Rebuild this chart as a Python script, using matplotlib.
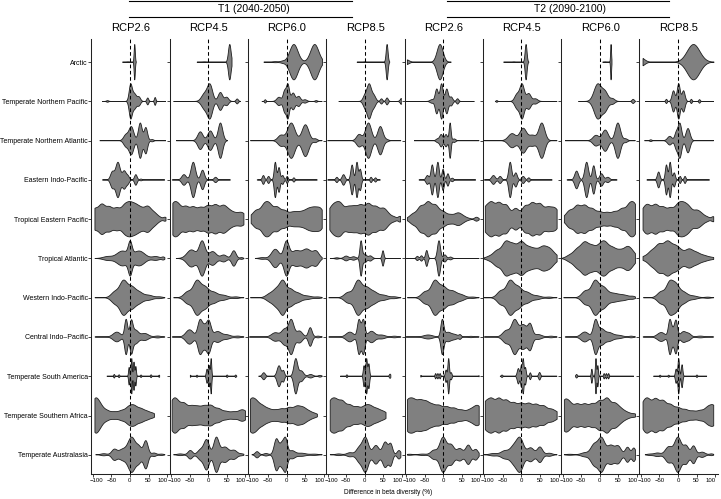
import numpy as np
import matplotlib
matplotlib.use("Agg")
import matplotlib.pyplot as plt
from matplotlib.lines import Line2D
from matplotlib.transforms import ScaledTranslation

plt.rcParams['font.family'] = ['Liberation Sans', 'DejaVu Sans']

REGIONS = ["Arctic", "Temperate Northern Pacific", "Temperate Northern Atlantic",
           "Eastern Indo-Pacific", "Tropical Eastern Pacific", "Tropical Atlantic",
           "Western Indo-Pacific", "Central Indo\u2013Pacific", "Temperate South America",
           "Temperate Southern Africa", "Temperate Australasia"]
PERIODS = ["T1 (2040-2050)", "T2 (2090-2100)"]
SCENARIOS = ["RCP2.6", "RCP4.5", "RCP6.0", "RCP8.5"]
X_TICKS = [-100, -50, 0, 50, 100]

# one violin per region: (min, max, [(mode, spread, relative height), ...])
T1_RCP26 = [
    (-20, 17, [(13, 1.5, 1.0), (-5, 6, 0.02)]),
    (-74, 97, [(-60, 3, 0.05), (2, 4, 1.0), (12, 6, 0.5), (25, 4, 0.25), (48, 2.5, 0.22), (68, 2, 0.25)]),
    (-81, 97, [(-11, 6, 0.3), (4, 6.5, 0.75), (28, 5, 0.95), (43, 4.5, 0.7), (60, 4, 0.06)]),
    (-74, 94, [(-47, 5, 0.45), (-32, 6, 1.0), (-15, 5, 0.5), (-5, 4, 0.2), (16, 3.5, 0.3), (30, 3, 0.05)]),
    (-94, 97, [(-95, 9, 0.7), (-75, 9, 1.0), (-55, 9, 0.8), (-35, 9, 0.72), (-15, 9, 0.82), (0, 9, 0.9),
               (15, 9, 0.78), (30, 9, 0.62), (48, 9, 0.82), (65, 9, 0.4), (80, 9, 0.1), (95, 4, 0.12)]),
    (-94, 94, [(1, 5, 0.7), (-20, 15, 0.4), (25, 15, 0.4), (-60, 12, 0.1), (70, 10, 0.1), (90, 4, 0.07)]),
    (-94, 94, [(-40, 10, 0.35), (-17, 10, 1.0), (5, 10, 0.6), (25, 10, 0.3), (50, 12, 0.15), (80, 8, 0.05)]),
    (-94, 94, [(-35, 10, 0.25), (-10, 4, 0.9), (4, 4, 0.75), (15, 8, 0.35), (40, 10, 0.18), (75, 8, 0.05)]),
    (-62, 80, [(-42, 1.5, 0.1), (-29, 1.5, 0.08), (-2, 1.5, 0.5), (5, 1.5, 1.0), (11, 1.5, 0.8),
               (16, 1.5, 0.55), (30, 1.5, 0.07), (57, 1.5, 0.08), (79, 1.5, 0.06)]),
    (-94, 66, [(-94, 9, 1.0), (-80, 9, 0.6), (-62, 9, 0.3), (-42, 9, 0.22), (-22, 9, 0.3), (-3, 9, 0.5),
               (12, 9, 0.55), (30, 9, 0.4), (48, 9, 0.25), (63, 6, 0.1)]),
    (-92, 94, [(-70, 8, 0.06), (-42, 7, 0.3), (-20, 10, 0.3), (5, 10, 1.0), (25, 7, 0.4), (43, 6, 0.8),
               (65, 6, 0.1), (85, 6, 0.04)]),
]

T1_RCP45 = [
    (-30, 64, [(58, 3.5, 1.0), (-10, 8, 0.02)]),
    (-93, 87, [(-10, 8, 0.45), (5, 7, 1.0), (33, 6, 0.55), (50, 5, 0.25), (78, 3, 0.15)]),
    (-86, 52, [(-21, 7, 0.5), (6, 7, 0.55), (33, 6, 1.0)]),
    (-97, 60, [(-65, 6, 0.3), (-40, 6, 1.0), (-15, 5, 0.55), (20, 4, 0.15)]),
    (-95, 96, [(-95, 9, 0.85), (-80, 9, 0.8), (-60, 9, 0.75), (-40, 9, 0.72), (-20, 9, 0.68), (0, 9, 0.8),
               (20, 9, 0.85), (40, 9, 0.75), (55, 9, 0.45), (70, 9, 0.3), (85, 9, 0.25), (95, 9, 0.25)]),
    (-86, 96, [(-45, 12, 0.5), (-16, 8, 1.0), (12, 10, 0.4), (42, 8, 0.2), (69, 6, 0.45), (90, 4, 0.05)]),
    (-93, 96, [(-55, 10, 0.35), (-30, 10, 1.0), (-8, 10, 0.6), (15, 10, 0.3), (40, 12, 0.15), (75, 8, 0.05)]),
    (-97, 96, [(-50, 10, 0.4), (-22, 6, 0.9), (-10, 6, 0.5), (2, 6, 0.85), (25, 10, 0.3), (50, 10, 0.12),
               (80, 8, 0.05)]),
    (-48, 77, [(-48, 1.5, 0.06), (-30, 1.5, 0.06), (-3, 2, 0.4), (3, 1.5, 0.6), (8, 1.5, 1.0),
               (51, 1.5, 0.07), (74, 1.5, 0.07)]),
    (-97, 100, [(-97, 9, 0.75), (-84, 9, 0.8), (-65, 9, 0.75), (-45, 9, 0.55), (-28, 9, 0.5), (-10, 9, 0.55),
                (8, 9, 0.6), (28, 9, 0.42), (48, 9, 0.25), (68, 9, 0.22), (88, 9, 0.28), (100, 9, 0.2)]),
    (-93, 96, [(-75, 8, 0.05), (-48, 6, 0.25), (-20, 8, 0.3), (-4, 7, 0.85), (22, 7, 1.0), (45, 10, 0.45),
               (70, 8, 0.25), (90, 6, 0.05)]),
]

T1_RCP60 = [
    (-61, 97, [(-30, 8, 0.03), (-10, 6, 0.05), (20, 11, 1.0), (76, 11, 1.0)]),
    (-66, 96, [(-57, 2, 0.1), (-20, 6, 0.25), (-5, 4, 0.6), (4, 4, 1.0), (18, 5, 0.5), (33, 5, 0.3),
               (50, 5, 0.1), (80, 3, 0.05)]),
    (-97, 96, [(-15, 8, 0.3), (13, 10, 1.0), (51, 9, 0.9), (78, 5, 0.1)]),
    (-79, 83, [(-62, 3, 0.25), (-48, 3, 0.2), (-30, 3, 1.0), (-20, 3, 0.7), (-10, 3, 0.25), (2, 2.5, 0.2),
               (20, 2.5, 0.12)]),
    (-95, 96, [(-95, 9, 0.15), (-80, 9, 0.5), (-60, 9, 0.8), (-45, 9, 0.8), (-25, 9, 0.7), (-5, 9, 0.5),
               (15, 9, 0.35), (30, 9, 0.32), (45, 9, 0.35), (60, 9, 0.5), (75, 9, 0.55), (90, 9, 0.45),
               (96, 9, 0.2)]),
    (-84, 96, [(-30, 10, 0.55), (0, 7, 1.0), (25, 12, 0.45), (55, 12, 0.55), (80, 8, 0.4), (-65, 8, 0.05)]),
    (-97, 96, [(-45, 10, 0.25), (-25, 10, 0.6), (-9, 8, 1.0), (10, 9, 0.55), (30, 10, 0.3), (55, 12, 0.12),
               (85, 8, 0.05)]),
    (-100, 96, [(-30, 10, 0.25), (-5, 8, 0.45), (13, 7, 1.0), (35, 8, 0.35), (64, 5, 0.55), (85, 6, 0.05)]),
    (-75, 96, [(-61, 4, 0.2), (-20, 5, 0.6), (-8, 3, 0.3), (25, 5, 1.0), (40, 6, 0.3), (65, 6, 0.1),
               (90, 4, 0.05)]),
    (-97, 83, [(-97, 9, 0.75), (-82, 9, 0.65), (-65, 9, 0.45), (-48, 9, 0.3), (-30, 9, 0.25), (-12, 9, 0.32),
               (8, 9, 0.4), (28, 9, 0.45), (45, 9, 0.38), (62, 9, 0.2), (78, 7, 0.08)]),
    (-93, 96, [(-79, 5, 0.2), (-55, 6, 0.08), (-27, 6, 1.0), (-12, 6, 0.7), (-2, 5, 0.9), (15, 8, 0.25),
               (40, 12, 0.1), (75, 10, 0.04)]),
]

T1_RCP85 = [
    (-21, 67, [(60, 2.5, 1.0), (0, 5, 0.02)]),
    (-70, 98, [(0, 5, 0.3), (12, 6, 1.0), (25, 5, 0.3), (45, 3, 0.15), (60, 3, 0.2), (100, 4, 0.2)]),
    (-100, 97, [(-15, 7, 0.35), (10, 8, 1.0), (42, 7, 0.8), (60, 5, 0.05)]),
    (-100, 42, [(-75, 3, 0.15), (-57, 4, 0.3), (-34, 3.5, 0.85), (-21, 3, 1.0), (-12, 3, 0.6),
                (17, 2.5, 0.15), (29, 2.5, 0.12)]),
    (-94, 96, [(-94, 9, 0.4), (-80, 9, 0.6), (-65, 9, 0.7), (-45, 9, 0.55), (-28, 9, 0.55), (-10, 9, 0.65),
               (10, 9, 0.75), (30, 9, 0.6), (50, 9, 0.5), (65, 9, 0.2), (80, 6, 0.08), (95, 5, 0.15)]),
    (-93, 97, [(-75, 5, 0.04), (-50, 6, 0.14), (-30, 6, 0.1), (-10, 3, 1.0), (0, 5, 0.25), (15, 5, 0.15),
               (49, 2.5, 0.45)]),
    (-97, 97, [(-45, 10, 0.3), (-18, 10, 1.0), (5, 10, 0.55), (25, 10, 0.3), (50, 12, 0.15), (80, 8, 0.05)]),
    (-97, 97, [(-40, 10, 0.3), (-16, 4, 0.9), (-9, 5, 0.4), (-3, 4, 0.85), (18, 9, 0.35), (45, 10, 0.12),
               (80, 8, 0.05)]),
    (-66, 70, [(-48, 1.5, 0.08), (-2, 2, 0.6), (5, 2, 1.0), (11, 2, 0.7), (68, 2, 0.12)]),
    (-93, 57, [(-93, 9, 0.7), (-78, 9, 0.75), (-60, 9, 0.75), (-40, 9, 0.55), (-20, 9, 0.45), (0, 9, 0.45),
               (15, 9, 0.45), (32, 9, 0.32), (48, 9, 0.2), (57, 6, 0.05)]),
    (-93, 97, [(-70, 8, 0.05), (-40, 8, 0.12), (-15, 8, 0.4), (2, 8, 1.0), (30, 8, 0.55), (55, 7, 0.75),
               (70, 5, 0.6), (92, 5, 0.25)]),
]

T2_RCP26 = [
    (-96, 22, [(-100, 8, 0.15), (-8, 8, 1.0)]),
    (-100, 84, [(-30, 5, 0.1), (-17, 4, 0.7), (-4, 4, 1.0), (10, 4, 0.7), (22, 4, 0.25), (39, 3, 0.15)]),
    (-78, 97, [(-15, 4, 0.1), (-5, 4, 0.35), (8, 4, 0.35), (19, 2.5, 1.0), (30, 4, 0.1)]),
    (-65, 88, [(-42, 4, 0.25), (-29, 3.5, 0.85), (-14, 3.5, 1.0), (0, 3, 0.6), (13, 3, 0.35), (25, 3, 0.1)]),
    (-96, 97, [(-95, 9, 0.03), (-80, 9, 0.25), (-60, 9, 0.6), (-40, 9, 0.8), (-20, 9, 0.65), (0, 9, 0.35),
               (20, 9, 0.2), (40, 9, 0.28), (55, 9, 0.12), (70, 6, 0.02), (90, 5, 0.1)]),
    (-100, 97, [(-69, 3, 0.12), (-58, 3, 0.15), (-44, 3, 0.45), (-11, 4, 1.0), (5, 4, 0.2), (20, 4, 0.08)]),
    (-96, 97, [(-48, 10, 0.35), (-22, 10, 1.0), (0, 10, 0.6), (25, 12, 0.4), (50, 10, 0.15), (80, 8, 0.04)]),
    (-100, 97, [(-40, 12, 0.12), (-2, 4, 1.0), (12, 8, 0.25), (30, 10, 0.15), (46, 3, 0.1), (75, 8, 0.04)]),
    (-60, 97, [(-60, 1.5, 0.05), (-20, 1.5, 0.15), (-14, 1.5, 0.15), (-8, 1.5, 0.15), (8, 2, 0.35),
               (15, 2, 1.0), (22, 2, 0.2), (97, 1.5, 0.03)]),
    (-96, 97, [(-96, 9, 0.75), (-80, 9, 0.75), (-62, 9, 0.72), (-45, 9, 0.65), (-28, 9, 0.5), (-10, 9, 0.5),
               (10, 9, 0.45), (30, 9, 0.38), (50, 9, 0.28), (70, 9, 0.25), (85, 9, 0.32), (97, 9, 0.4)]),
    (-96, 97, [(-90, 8, 0.03), (-55, 10, 0.04), (-25, 8, 0.25), (0, 9, 1.0), (22, 8, 0.55), (45, 8, 0.35),
               (68, 7, 0.55), (88, 6, 0.3)]),
]

T2_RCP45 = [
    (-48, 20, [(12.6, 2.5, 1.0), (-20, 5, 0.02)]),
    (-70, 96, [(-66, 2, 0.05), (-12, 6, 0.4), (2, 6, 1.0), (20, 6, 0.45), (38, 6, 0.15)]),
    (-100, 96, [(-25, 10, 0.4), (5, 9, 0.7), (30, 9, 0.3), (55, 8, 1.0)]),
    (-100, 83, [(-75, 5, 0.25), (-57, 4, 0.2), (-30, 4, 1.0), (-15, 4, 0.4), (5, 4, 0.2), (20, 3, 0.12)]),
    (-97, 96, [(-97, 9, 0.6), (-80, 9, 0.85), (-60, 9, 0.85), (-40, 9, 0.75), (-15, 9, 0.6), (10, 9, 0.7),
               (30, 9, 0.85), (50, 9, 0.8), (70, 9, 0.55), (85, 9, 0.4), (96, 9, 0.35)]),
    (-100, 96, [(-85, 10, 0.12), (-65, 10, 0.45), (-42, 10, 0.95), (-22, 10, 0.75), (0, 10, 0.92),
                (20, 10, 0.55), (38, 10, 0.45), (58, 10, 0.62), (76, 10, 0.5), (92, 10, 0.15)]),
    (-100, 96, [(-55, 10, 0.4), (-30, 10, 1.0), (-8, 10, 0.6), (15, 10, 0.3), (40, 12, 0.12), (75, 8, 0.04)]),
    (-100, 96, [(-40, 10, 0.4), (-18, 8, 1.0), (5, 10, 0.75), (24, 6, 0.7), (45, 10, 0.15), (80, 8, 0.05)]),
    (-57, 96, [(-52, 2, 0.07), (-8, 3, 0.45), (0, 2, 0.6), (5, 2, 1.0), (11, 2, 0.5), (24, 2, 0.2),
               (49, 2.5, 0.22)]),
    (-97, 96, [(-97, 9, 0.65), (-80, 9, 0.8), (-60, 9, 0.85), (-40, 9, 0.75), (-20, 9, 0.62), (0, 9, 0.6),
               (20, 9, 0.6), (40, 9, 0.55), (60, 9, 0.48), (80, 9, 0.3), (96, 9, 0.15)]),
    (-100, 96, [(-75, 10, 0.08), (-45, 10, 0.25), (-20, 10, 0.55), (-3, 9, 1.0), (25, 9, 0.45), (50, 7, 0.5),
                (75, 8, 0.1)]),
]

T2_RCP60 = [
    (8, 33, [(30.6, 1.2, 1.0), (15, 4, 0.02)]),
    (-57, 96, [(-5, 10, 1.0), (15, 8, 0.5), (35, 6, 0.15), (90, 3, 0.12)]),
    (-93, 96, [(-10, 8, 0.3), (15, 8, 0.6), (49, 7, 1.0), (70, 5, 0.1)]),
    (-88, 47, [(-62, 5, 0.5), (-35, 5, 1.0), (-16, 4, 0.8), (5, 5, 0.35), (22, 5, 0.15)]),
    (-95, 96, [(-95, 9, 0.1), (-80, 9, 0.5), (-60, 9, 0.8), (-40, 9, 0.8), (-20, 9, 0.6), (0, 9, 0.42),
               (20, 9, 0.38), (40, 9, 0.42), (60, 9, 0.6), (80, 9, 0.8), (95, 9, 0.8)]),
    (-100, 96, [(-80, 10, 0.2), (-60, 10, 0.55), (-40, 10, 0.95), (-20, 10, 0.7), (0, 10, 0.65),
                (15, 10, 0.85), (35, 10, 0.6), (55, 10, 0.45), (75, 10, 0.65), (90, 10, 0.3)]),
    (-97, 96, [(-38, 10, 0.4), (-12, 10, 1.0), (10, 10, 0.55), (35, 14, 0.25), (65, 14, 0.15), (90, 6, 0.06)]),
    (-93, 96, [(-40, 10, 0.3), (-11, 6, 1.0), (5, 8, 0.45), (25, 10, 0.25), (50, 12, 0.1), (85, 6, 0.05)]),
    (-65, 92, [(-62, 2, 0.1), (-21, 1.5, 0.4), (-10, 1.5, 1.0), (-5, 1.5, 0.6), (12, 1.5, 0.15),
               (18, 1.5, 0.15), (24, 1.5, 0.15)]),
    (-95, 96, [(-95, 9, 0.7), (-80, 9, 0.55), (-60, 9, 0.55), (-40, 9, 0.55), (-20, 9, 0.55), (0, 9, 0.7),
               (20, 9, 0.85), (40, 9, 0.55), (55, 9, 0.3), (70, 9, 0.15), (85, 9, 0.07), (96, 6, 0.05)]),
    (-95, 96, [(-80, 10, 0.03), (-40, 10, 0.12), (-15, 9, 0.6), (5, 9, 1.0), (30, 9, 0.55), (50, 8, 0.5),
               (75, 6, 0.45), (92, 5, 0.4)]),
]

T2_RCP85 = [
    (-94, 97, [(-100, 10, 0.25), (42, 17, 1.0)]),
    (-88, 96, [(-31, 2, 0.12), (-12, 4, 0.6), (2, 4, 1.0), (15, 4, 0.6), (36, 2, 0.12), (58, 2, 0.1)]),
    (-90, 96, [(-73, 3, 0.05), (-22, 6, 0.25), (-5, 4, 0.4), (5, 5, 1.0), (27, 5.5, 0.7)]),
    (-84, 85, [(-52, 3.5, 0.45), (-31, 3, 0.85), (-21, 3, 1.0), (-10, 3, 0.4), (6, 2.5, 0.2), (19, 2.5, 0.2)]),
    (-94, 96, [(-94, 9, 0.45), (-80, 9, 0.7), (-60, 9, 0.8), (-40, 9, 0.65), (-20, 9, 0.6), (0, 9, 0.75),
               (15, 9, 0.72), (30, 9, 0.6), (50, 9, 0.45), (65, 9, 0.25), (80, 6, 0.08), (95, 5, 0.15)]),
    (-94, 96, [(-90, 10, 0.1), (-70, 10, 0.4), (-50, 10, 0.75), (-28, 10, 0.9), (-8, 10, 0.6), (8, 10, 0.35),
               (30, 10, 0.5), (50, 10, 0.3), (70, 10, 0.15), (90, 10, 0.06)]),
    (-93, 96, [(-45, 10, 0.4), (-22, 9, 1.0), (-5, 9, 0.8), (15, 10, 0.35), (40, 12, 0.12), (80, 8, 0.04)]),
    (-94, 96, [(-45, 10, 0.25), (-22, 4, 0.8), (-5, 4, 0.8), (-14, 6, 0.4), (15, 8, 0.3), (30, 6, 0.15),
               (60, 10, 0.05)]),
    (-66, 78, [(-48, 1.5, 0.06), (-25, 1.5, 0.06), (-5, 2, 0.4), (2, 2, 1.0), (11, 2, 0.65), (51, 1.5, 0.07)]),
    (-94, 96, [(-94, 9, 0.55), (-80, 9, 0.75), (-60, 9, 0.85), (-40, 9, 0.75), (-20, 9, 0.55), (0, 9, 0.4),
               (20, 9, 0.3), (40, 9, 0.22), (60, 9, 0.25), (80, 9, 0.4), (96, 9, 0.5)]),
    (-88, 96, [(-75, 8, 0.04), (-55, 8, 0.1), (-25, 9, 0.45), (0, 9, 1.0), (22, 7, 0.5), (42, 6, 0.5),
               (65, 8, 0.15), (90, 5, 0.05)]),
]

PANELS = [T1_RCP26, T1_RCP45, T1_RCP60, T1_RCP85, T2_RCP26, T2_RCP45, T2_RCP60, T2_RCP85]


def violin_profile(lo, hi, modes, n=900):
    """Half-width profile of one violin, scaled so the widest point is 1"""
    x = np.linspace(lo, hi, n)
    d = np.zeros_like(x)
    for c, s, h in modes:
        d += h * np.exp(-0.5 * ((x - c) / s) ** 2)
    return x, d / d.max()


W, H = 721, 499
fig = plt.figure(figsize=(W / 100, H / 100), dpi=100)

# panel geometry in pixels
left0, pw = 91.3, 78.3
top_px, bot_px = 39, 474

# small nudges (in points) so the end labels of neighbouring panels do not collide
label_nudge = {-100: 2.5, -50: 0, 0: 0, 50: 0, 100: -3.2}

for p, panel in enumerate(PANELS):
    ax = fig.add_axes([(left0 + p * pw) / W, 1 - bot_px / H, pw / W, (bot_px - top_px) / H])
    for r, (lo, hi, modes) in enumerate(panel):
        x, w = violin_profile(lo, hi, modes)
        w = 0.45 * w
        ax.fill(np.concatenate([x, x[::-1]]), np.concatenate([r - w, (r + w)[::-1]]),
                facecolor='#808080', edgecolor='#1e1e1e', linewidth=0.6, zorder=2)
    ax.axvline(0, color='black', linestyle=(0, (3.5, 2.5)), linewidth=0.75, zorder=3)

    ax.set_xlim(-103.8, 106.7)
    ax.set_ylim(len(REGIONS) - 1 + 0.49, -0.59)
    for s in ['top', 'right']:
        ax.spines[s].set_visible(False)
    for s in ['left', 'bottom']:
        ax.spines[s].set_linewidth(0.75)
        ax.spines[s].set_color('#222222')
    ax.set_yticks(range(len(REGIONS)))
    if p == 0:
        ax.set_yticklabels(REGIONS)
    else:
        ax.set_yticklabels([])
    ax.tick_params(axis='y', length=2, width=0.6, labelsize=5.0, pad=0.5, colors='#222222',
                   labelcolor='black')
    ax.tick_params(axis='x', length=2, width=0.6, labelsize=4.3, pad=1, colors='#222222',
                   labelcolor='black')
    ax.set_xticks(X_TICKS)
    ax.set_xticklabels([str(t).replace('-', '\u2212') for t in X_TICKS])
    for t, tick in zip(X_TICKS, ax.xaxis.get_major_ticks()):
        lab = tick.label1
        lab.set_transform(lab.get_transform() +
                          ScaledTranslation(label_nudge[t] / 72, 0, fig.dpi_scale_trans))
    ax.patch.set_alpha(0)

    # scenario title above each panel
    fig.text((left0 + (p + 0.5) * pw) / W, 1 - 28 / H, SCENARIOS[p % 4],
             ha='center', va='center', fontsize=8)

# period headers with lines above and below
for (x0, x1, xt), label in zip([(129, 352, 254), (447, 669, 570)], PERIODS):
    for yp in (0.8, 17):
        fig.add_artist(Line2D([x0 / W, x1 / W], [1 - yp / H, 1 - yp / H],
                              transform=fig.transFigure, color='black', linewidth=0.8))
    fig.text(xt / W, 1 - 9 / H, label, ha='center', va='center', fontsize=7.5)

fig.text(388 / W, 1 - 493 / H, 'Difference in beta diversity (%)', ha='center', va='center',
         fontsize=4.7)

fig.savefig('out.png', dpi=100)
